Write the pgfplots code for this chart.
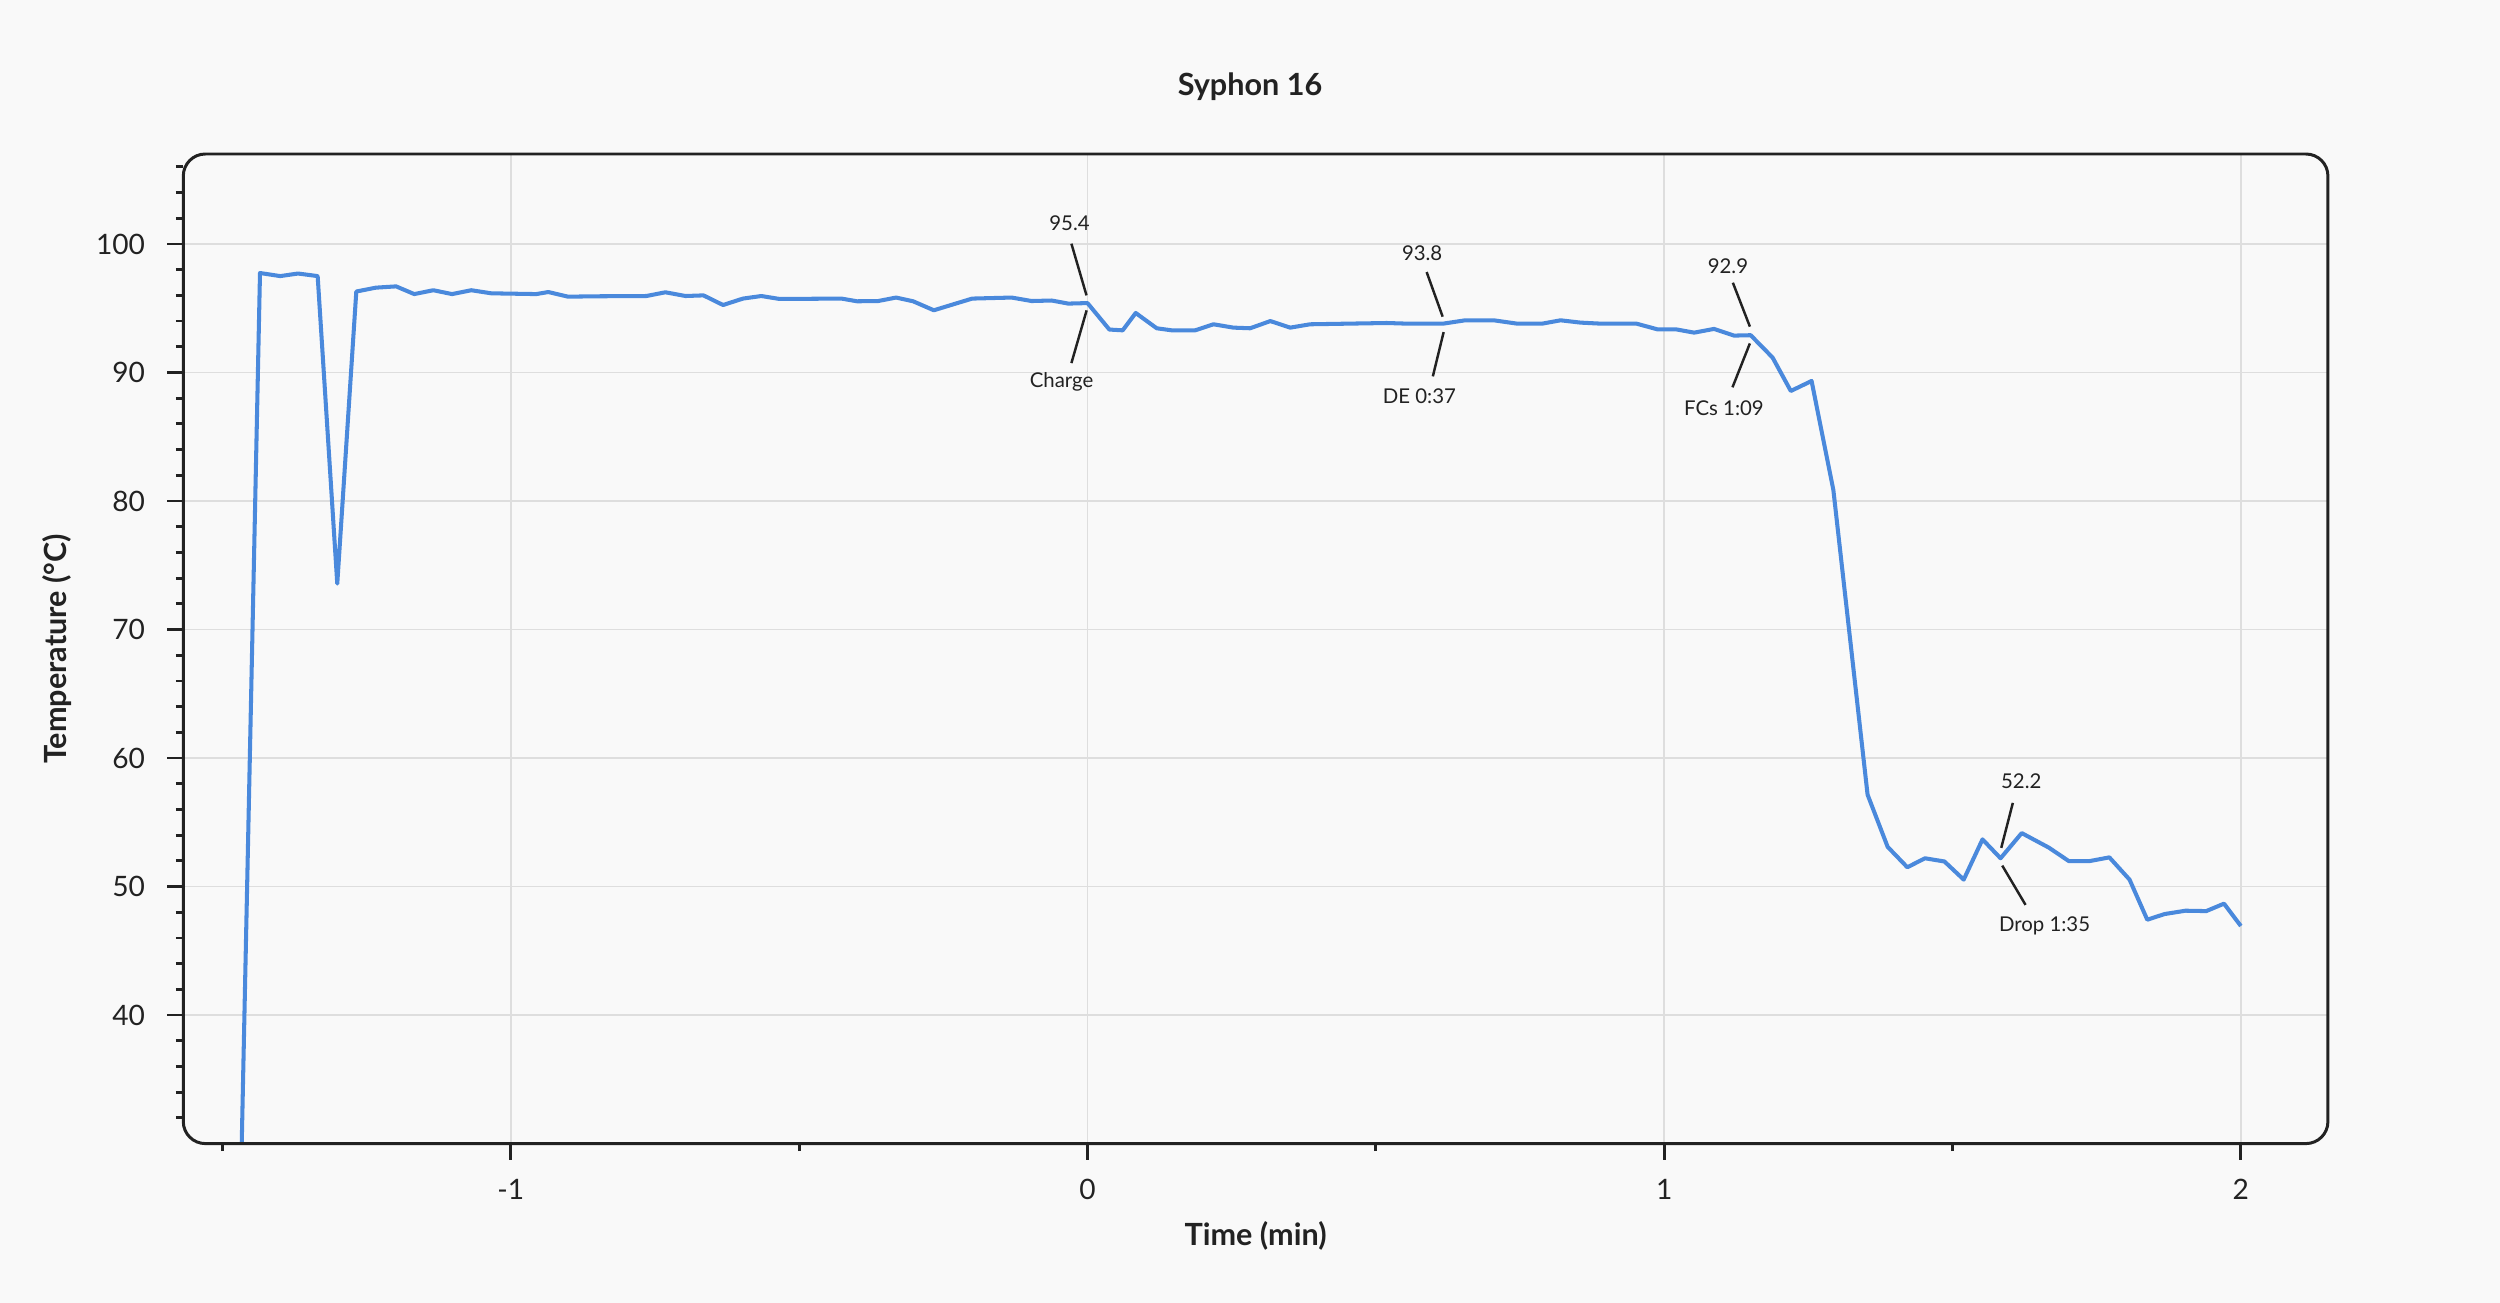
\documentclass[border=0pt]{standalone}
\usepackage{fontspec}
\setmainfont{Lato}
\usepackage{pgfplots}
\pgfplotsset{compat=1.18}
\definecolor{bg}{HTML}{F9F9F9}
\definecolor{linec}{HTML}{4A89DC}
\definecolor{ink}{HTML}{222222}
\definecolor{gridc}{HTML}{DEDEDE}
\begin{document}
\begin{tikzpicture}[x=1cm,y=1cm]
\fill[bg] (0,0) rectangle (25,13.03);
\path[use as bounding box] (0,0) rectangle (25,13.03);
\begin{axis}[
  name=ax,
  at={(1.833cm,1.594cm)}, anchor=south west,
  scale only axis, width=21.446cm, height=9.896cm,
  xmin=-1.568, xmax=2.151, ymin=30, ymax=107,
  axis line style={draw=none},
  xtick={-1,0,1,2}, minor xtick={-1.5,-0.5,0.5,1.5},
  ytick={40,50,...,100}, minor ytick={32,34,...,106},
  tick pos=left, tick align=outside,
  major tick length=0.16cm, minor tick length=0.075cm,
  every tick/.style={ink, line width=0.8pt},
  xmajorgrids, ymajorgrids,
  major grid style={gridc, line width=0.5pt},
  /pgf/number format/assume math mode=true,
  ticklabel style={font=\fontsize{8}{9.6}\selectfont, text=ink},
  xticklabel shift=2pt, yticklabel shift=2.8pt,
  every axis title shift=0pt,
  title={Syphon 16},
  title style={font=\fontsize{8.7}{10}\selectfont\bfseries, text=ink, at={(axis description cs:0.4974,1.0589)}, anchor=base},
  xlabel={Time (min)},
  xlabel style={font=\fontsize{8.7}{10}\selectfont\bfseries, text=ink, at={(axis description cs:0.5,-0.1031)}, anchor=base},
  ylabel={Temperature (°C)},
  ylabel style={font=\fontsize{8.7}{10}\selectfont\bfseries, text=ink, at={(axis description cs:-0.0545,0.5)}, anchor=base},
]
\addplot[linec, line width=1.15pt, line join=round, mark=none] coordinates {
(-1.4683,26.5) (-1.435,97.74) (-1.400,97.5) (-1.369,97.7) (-1.335,97.5)
(-1.301,73.57) (-1.268,96.3) (-1.234,96.6) (-1.199,96.7) (-1.1675,96.1)
(-1.1345,96.4) (-1.102,96.1) (-1.0686,96.4) (-1.034,96.16) (-0.956,96.1)
(-0.935,96.26) (-0.901,95.9) (-0.846,95.93) (-0.765,95.95) (-0.732,96.24)
(-0.697,95.95) (-0.666,96.0) (-0.632,95.25) (-0.5975,95.75) (-0.5657,95.95)
(-0.534,95.72) (-0.4267,95.75) (-0.3996,95.54) (-0.363,95.56) (-0.332,95.83)
(-0.3024,95.54) (-0.2665,94.84) (-0.233,95.3) (-0.200,95.75) (-0.1316,95.83)
(-0.0969,95.56) (-0.0622,95.6) (-0.0333,95.36) (0,95.4) (0.0379,93.34)
(0.061,93.28) (0.0836,94.63) (0.120,93.44) (0.146,93.28) (0.1866,93.28)
(0.2185,93.75) (0.253,93.49) (0.282,93.44) (0.317,94.0) (0.3516,93.49)
(0.386,93.75) (0.519,93.85) (0.554,93.8) (0.6167,93.8) (0.655,94.06)
(0.7045,94.06) (0.745,93.8) (0.7885,93.8) (0.8203,94.06) (0.855,93.88)
(0.8898,93.8) (0.952,93.8) (0.988,93.36) (1.020,93.36) (1.052,93.1)
(1.0865,93.39) (1.121,92.87) (1.15,92.9) (1.188,91.16) (1.2196,88.56)
(1.2556,89.34) (1.2934,80.85) (1.3527,57.15) (1.3875,53.09) (1.4216,51.5)
(1.4523,52.2) (1.486,51.95) (1.5194,50.54) (1.552,53.67) (1.5833,52.2)
(1.62,54.16) (1.667,53.03) (1.7017,51.98) (1.7375,51.98) (1.772,52.27)
(1.807,50.54) (1.8377,47.42) (1.8677,47.86) (1.904,48.12) (1.94,48.09)
(1.9708,48.67) (2.0,46.93)
};
% annotations
\begin{scope}[ink, line width=0.7pt]
% Charge
\draw ([xshift=-0.01cm,yshift=0.077cm]axis cs:0,95.4) -- ([xshift=-0.161cm,yshift=0.594cm]axis cs:0,95.4);
\draw ([xshift=-0.009cm,yshift=-0.073cm]axis cs:0,95.4) -- ([xshift=-0.161cm,yshift=-0.60cm]axis cs:0,95.4);
\node[anchor=base, font=\fontsize{5.8}{7}\selectfont, inner sep=0pt] at ([xshift=-0.18cm,yshift=0.727cm]axis cs:0,95.4) {95.4};
\node[anchor=base, font=\fontsize{5.8}{7}\selectfont, inner sep=0pt] at ([xshift=-0.26cm,yshift=-0.84cm]axis cs:0,95.4) {Charge};
% DE
\draw ([xshift=-0.005cm,yshift=0.07cm]axis cs:0.6167,93.8) -- ([xshift=-0.165cm,yshift=0.516cm]axis cs:0.6167,93.8);
\draw ([xshift=0.005cm,yshift=-0.084cm]axis cs:0.6167,93.8) -- ([xshift=-0.103cm,yshift=-0.527cm]axis cs:0.6167,93.8);
\node[anchor=base, font=\fontsize{5.8}{7}\selectfont, inner sep=0pt] at ([xshift=-0.21cm,yshift=0.633cm]axis cs:0.6167,93.8) {93.8};
\node[anchor=base, font=\fontsize{5.8}{7}\selectfont, inner sep=0pt] at ([xshift=-0.237cm,yshift=-0.80cm]axis cs:0.6167,93.8) {DE 0:37};
% FCs
\draw ([xshift=-0.008cm,yshift=0.086cm]axis cs:1.15,92.9) -- ([xshift=-0.178cm,yshift=0.525cm]axis cs:1.15,92.9);
\draw ([xshift=-0.008cm,yshift=-0.082cm]axis cs:1.15,92.9) -- ([xshift=-0.182cm,yshift=-0.521cm]axis cs:1.15,92.9);
\node[anchor=base, font=\fontsize{5.8}{7}\selectfont, inner sep=0pt] at ([xshift=-0.227cm,yshift=0.614cm]axis cs:1.15,92.9) {92.9};
\node[anchor=base, font=\fontsize{5.8}{7}\selectfont, inner sep=0pt] at ([xshift=-0.267cm,yshift=-0.807cm]axis cs:1.15,92.9) {FCs 1:09};
% Drop
\draw ([xshift=0.007cm,yshift=0.104cm]axis cs:1.5833,52.2) -- ([xshift=0.123cm,yshift=0.554cm]axis cs:1.5833,52.2);
\draw ([xshift=0.017cm,yshift=-0.073cm]axis cs:1.5833,52.2) -- ([xshift=0.25cm,yshift=-0.466cm]axis cs:1.5833,52.2);
\node[anchor=base, font=\fontsize{5.8}{7}\selectfont, inner sep=0pt] at ([xshift=0.207cm,yshift=0.694cm]axis cs:1.5833,52.2) {52.2};
\node[anchor=base, font=\fontsize{5.8}{7}\selectfont, inner sep=0pt] at ([xshift=0.44cm,yshift=-0.73cm]axis cs:1.5833,52.2) {Drop 1:35};
\end{scope}
\end{axis}
\draw[ink, line width=0.85pt, rounded corners=0.22cm] (ax.south west) rectangle (ax.north east);
\end{tikzpicture}
\end{document}
